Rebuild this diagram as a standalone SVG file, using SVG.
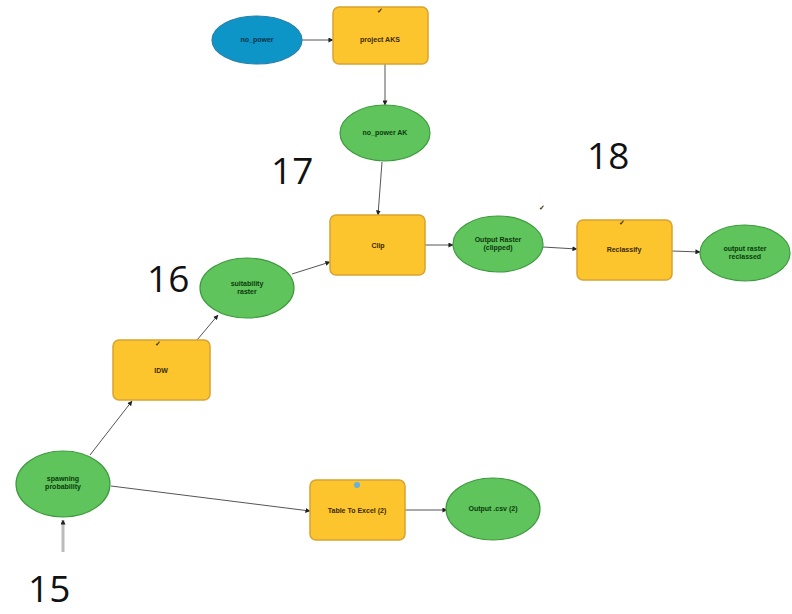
<svg xmlns="http://www.w3.org/2000/svg" width="792" height="614" viewBox="0 0 792 614">
<defs>
<marker id="ah" viewBox="0 0 6 6" refX="5.5" refY="3" markerWidth="5" markerHeight="5" orient="auto" markerUnits="userSpaceOnUse">
<path d="M0,0 L6,3 L0,6 z" fill="#222"/>
</marker>
</defs>
<style>
.tool{fill:#fcc42d;stroke:#d8a330;stroke-width:1.5}
.data{fill:#5fc45c;stroke:#3e9a3e;stroke-width:1.2}
.input{fill:#0e95c8;stroke:#2c7fa8;stroke-width:1.2}
.lbl{font-family:"Liberation Sans",Arial,sans-serif;font-size:7px;font-weight:bold;text-anchor:middle;fill:#3a2a00}
.dlbl{font-family:"Liberation Sans",Arial,sans-serif;font-size:7px;font-weight:bold;text-anchor:middle;fill:#0c3a0c}
.ilbl{font-family:"Liberation Sans",Arial,sans-serif;font-size:7px;font-weight:bold;text-anchor:middle;fill:#06324a}
.num{font-family:"Open Sans","Liberation Sans",sans-serif;font-size:37px;fill:#111}
.conn{stroke:#555;stroke-width:1;fill:none}
</style>
<g id="connectors">
<line class="conn" x1="302" y1="40" x2="333" y2="40" marker-end="url(#ah)"/>
<line class="conn" x1="385" y1="64" x2="385" y2="105" marker-end="url(#ah)"/>
<line class="conn" x1="382" y1="162" x2="378" y2="215" marker-end="url(#ah)"/>
<line class="conn" x1="292" y1="274" x2="330" y2="262" marker-end="url(#ah)"/>
<line class="conn" x1="425" y1="245" x2="453" y2="245" marker-end="url(#ah)"/>
<line class="conn" x1="543" y1="247" x2="577" y2="249" marker-end="url(#ah)"/>
<line class="conn" x1="672" y1="251" x2="700" y2="252" marker-end="url(#ah)"/>
<line class="conn" x1="197" y1="340" x2="218" y2="315" marker-end="url(#ah)" stroke="#999"/>
<line class="conn" x1="90" y1="455" x2="132" y2="401" marker-end="url(#ah)" stroke="#999"/>
<line class="conn" x1="111" y1="486" x2="310" y2="511" marker-end="url(#ah)"/>
<line class="conn" x1="405" y1="510" x2="447" y2="510" marker-end="url(#ah)"/>
<line x1="63" y1="552" x2="63" y2="520" stroke="#bbb" stroke-width="3" marker-end="url(#ah)"/>
</g>
<g id="no_power">
<ellipse class="input" cx="257" cy="40" rx="45" ry="24"/>
<text class="ilbl" x="257" y="42">no_power</text>
</g>
<g id="project_aks">
<rect class="tool" x="333" y="7" width="95" height="57" rx="6"/>
<text class="lbl" x="380" y="42">project AKS</text>
<text class="lbl" x="380" y="13" font-size="5">✓</text>
</g>
<g id="no_power_ak">
<ellipse class="data" cx="385" cy="133" rx="45" ry="28"/>
<text class="dlbl" x="385" y="135">no_power AK</text>
</g>
<g id="clip">
<rect class="tool" x="330" y="215" width="95" height="60" rx="6"/>
<text class="lbl" x="378" y="248">Clip</text>
</g>
<g id="output_raster_clipped">
<ellipse class="data" cx="498" cy="244" rx="45" ry="28"/>
<text class="dlbl" x="498" y="242">Output Raster</text>
<text class="dlbl" x="498" y="250">(clipped)</text>
<text class="lbl" x="542" y="210" font-size="6">✓</text>
</g>
<g id="reclassify">
<rect class="tool" x="577" y="220" width="95" height="60" rx="6"/>
<text class="lbl" x="624" y="252">Reclassify</text>
<text class="lbl" x="622" y="225" font-size="5">✓</text>
</g>
<g id="output_raster_reclassed">
<ellipse class="data" cx="745" cy="253" rx="45" ry="28"/>
<text class="dlbl" x="745" y="251">output raster</text>
<text class="dlbl" x="745" y="259">reclassed</text>
</g>
<g id="suitability_raster">
<ellipse class="data" cx="247" cy="288" rx="47" ry="30"/>
<text class="dlbl" x="247" y="286">suitability</text>
<text class="dlbl" x="247" y="294">raster</text>
</g>
<g id="idw">
<rect class="tool" x="113" y="340" width="97" height="60" rx="6"/>
<text class="lbl" x="161" y="373">IDW</text>
<text class="lbl" x="158" y="346" font-size="5">✓</text>
</g>
<g id="spawning_probability">
<ellipse class="data" cx="63" cy="484" rx="47" ry="33"/>
<text class="dlbl" x="63" y="481">spawning</text>
<text class="dlbl" x="63" y="489">probability</text>
</g>
<g id="table_to_excel">
<rect class="tool" x="310" y="480" width="95" height="60" rx="6"/>
<text class="lbl" x="357" y="513">Table To Excel (2)</text>
<circle cx="357" cy="485" r="3" fill="#6ab0d8"/>
</g>
<g id="output_csv">
<ellipse class="data" cx="493" cy="509" rx="47" ry="31"/>
<text class="dlbl" x="493" y="511">Output .csv (2)</text>
</g>
<g id="labels">
<text class="num" x="271" y="184">17</text>
<text class="num" x="587" y="169">18</text>
<text class="num" x="147" y="292">16</text>
<text class="num" x="28" y="602" font-size="35">15</text>
</g>
</svg>
